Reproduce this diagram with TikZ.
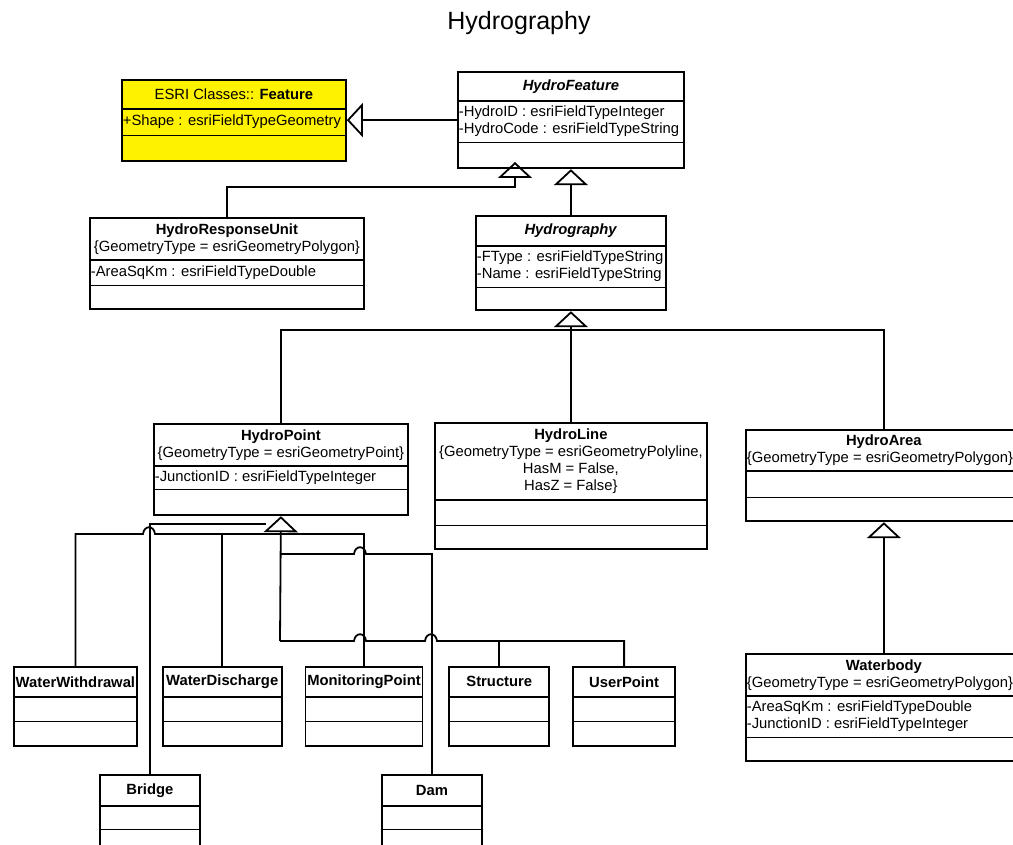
\documentclass[tikz,border=0pt]{standalone}
\usepackage{fontspec}
\setmainfont{Liberation Sans}
\usetikzlibrary{positioning, arrows.meta, shapes.multipart}

% parts of a class box
\newcommand{\clshead}[2]{\parbox[c][#1][c]{\clw}{\centering #2}}
\newcommand{\clsbody}[2]{\parbox[c][#1][c]{\clw}{\raggedright\leftskip=1pt\relax #2}}
\newcommand{\clsleft}[1]{\makebox[\clw][l]{\hspace{1pt}#1}}
% line jump over a vertical connector
\newcommand{\hop}[2]{-- (#1-6,#2) .. controls (#1-5,#2-9) and (#1+5,#2-9) .. (#1+6,#2)}

\begin{document}
\begin{tikzpicture}[x=1pt, y=-1pt, font=\fontsize{14.8}{17}\selectfont,
    umlclass/.style={rectangle split, rectangle split parts=3, draw, line width=1.8pt,
      inner sep=0pt, anchor=north west, fill=white, /utils/exec={\def\clw{#1}}},
    gen/.style={line width=1.8pt, -{Triangle[open, length=16pt, width=34pt]}},
    link/.style={line width=1.8pt}]

  \path[use as bounding box, fill=white] (0,0) rectangle (1013,845);

  \node (title) at (519,23) {\fontsize{25}{28}\selectfont Hydrography};

  % nodes
  \node [umlclass=224pt, fill=yellow] (feat) at (121,79)
  {\clshead{27pt}{ESRI Classes:: \textbf{Feature}}
    \nodepart{two}\clsbody{25pt}{+Shape : esriFieldTypeGeometry}
    \nodepart{three}\clsbody{24pt}{}};

  \node [umlclass=226pt] (hf) at (457,71)
  {\clshead{27pt}{\textbf{\textit{HydroFeature}}}
    \nodepart{two}\clsbody{40pt}{-HydroID : esriFieldTypeInteger\\ -HydroCode : esriFieldTypeString}
    \nodepart{three}\clsbody{24pt}{}};

  \node [umlclass=274pt] (hru) at (89,217)
  {\clshead{40pt}{\textbf{HydroResponseUnit}\\ \{GeometryType = esriGeometryPolygon\}}
    \nodepart{two}\clsbody{24pt}{-AreaSqKm : esriFieldTypeDouble}
    \nodepart{three}\clsbody{22pt}{}};

  \node [umlclass=190pt] (hyd) at (475,215)
  {\clshead{28pt}{\textbf{\textit{Hydrography}}}
    \nodepart{two}\clsbody{40pt}{-FType : esriFieldTypeString\\ -Name : esriFieldTypeString}
    \nodepart{three}\clsbody{21pt}{}};

  \node [umlclass=254pt] (hp) at (153,423)
  {\clshead{40pt}{\textbf{HydroPoint}\\ \{GeometryType = esriGeometryPoint\}}
    \nodepart{two}\clsbody{22pt}{-JunctionID : esriFieldTypeInteger}
    \nodepart{three}\clsbody{24pt}{}};

  \node [umlclass=272pt] (hl) at (434,422)
  {\clshead{75pt}{\textbf{HydroLine}\\ \{GeometryType = esriGeometryPolyline,\\ HasM = False,\\ HasZ = False\}}
    \nodepart{two}\clsbody{24pt}{}
    \nodepart{three}\clsbody{22pt}{}};

  \node [umlclass=276pt] (ha) at (745,429)
  {\clshead{39pt}{\textbf{HydroArea}\\ \clsleft{\{GeometryType = esriGeometryPolygon\}}}
    \nodepart{two}\clsbody{25pt}{}
    \nodepart{three}\clsbody{22pt}{}};

  \node [umlclass=276pt] (wb) at (745,653)
  {\clshead{40pt}{\textbf{Waterbody}\\ \clsleft{\{GeometryType = esriGeometryPolygon\}}}
    \nodepart{two}\clsbody{40pt}{-AreaSqKm : esriFieldTypeDouble\\ -JunctionID : esriFieldTypeInteger}
    \nodepart{three}\clsbody{22pt}{}};

  % point types
  \node [umlclass=123pt] (ww) at (13,666)
  {\clshead{28pt}{\textbf{WaterWithdrawal}}
    \nodepart{two}\clsbody{23pt}{}
    \nodepart{three}\clsbody{23pt}{}};
  \node [umlclass=119pt, right = 24pt of ww] (wd)
  {\clshead{28pt}{\textbf{WaterDischarge}}
    \nodepart{two}\clsbody{23pt}{}
    \nodepart{three}\clsbody{23pt}{}};
  \node [umlclass=117pt, right = 22pt of wd] (mp)
  {\clshead{28pt}{\textbf{MonitoringPoint}}
    \nodepart{two}\clsbody{23pt}{}
    \nodepart{three}\clsbody{23pt}{}};
  \node [umlclass=100pt, right = 25pt of mp] (st)
  {\clshead{28pt}{\textbf{Structure}}
    \nodepart{two}\clsbody{23pt}{}
    \nodepart{three}\clsbody{23pt}{}};
  \node [umlclass=102pt, right = 22pt of st] (up)
  {\clshead{28pt}{\textbf{UserPoint}}
    \nodepart{two}\clsbody{23pt}{}
    \nodepart{three}\clsbody{23pt}{}};

  \node [umlclass=100pt] (br) at (99,774)
  {\clshead{29pt}{\textbf{Bridge}}
    \nodepart{two}\clsbody{22pt}{}
    \nodepart{three}\clsbody{22pt}{}};
  \node [umlclass=100pt] (dam) at (381,774)
  {\clshead{29pt}{\textbf{Dam}}
    \nodepart{two}\clsbody{22pt}{}
    \nodepart{three}\clsbody{22pt}{}};

  % junction points
  \coordinate (busH) at (570,330);
  \coordinate (busA) at (280,534);
  \coordinate (busB) at (280,554);
  \coordinate (busC) at (280,641);
  \coordinate (trileft) at (266,524);
  \coordinate (hfA) at (515,162);

  % edges
  \draw [gen] (hf.west) -- (hf.west -| feat.east);
  \draw [gen] (hru.north) -- ++(0,-30) -| (hfA);
  \draw [gen] (hyd.north) -- (hf.south);

  \draw [gen] (hl.north) -- (hyd.south);
  \draw [link] (hp.north) |- (busH) -| (ha.north);

  \draw [gen] (busC) -- (hp.south);
  \draw [link] (br.north) |- (trileft);
  \draw [link] (ww.north) -- (ww.north |- busA) \hop{149}{534} -- (mp.north |- busA) -- (mp.north);
  \draw [link] (wd.north) -- (wd.north |- busA);
  \draw [link] (busB) \hop{360}{554} -- (dam.north |- busB) -- (dam.north);
  \draw [link] (busC) \hop{360}{641} \hop{431}{641} -- (up.north |- busC) -- (up.north);
  \draw [link] (st.north) -- (st.north |- busC);

  \draw [gen] (wb.north) -- (ha.south);
\end{tikzpicture}
\end{document}
